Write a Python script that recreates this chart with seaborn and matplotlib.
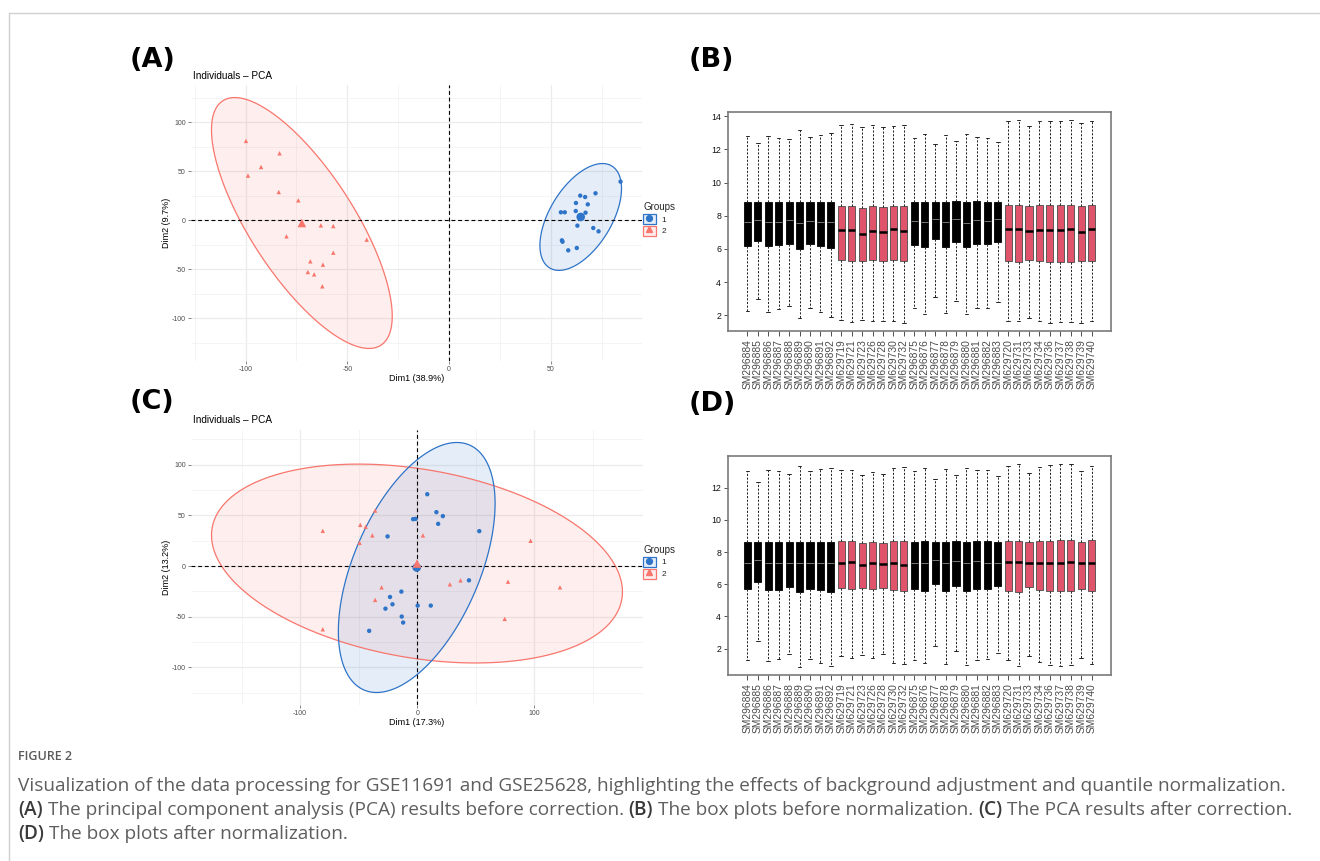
import numpy as np
import pandas as pd
import matplotlib
matplotlib.use("Agg")
import matplotlib.pyplot as plt
from matplotlib.lines import Line2D
from matplotlib.patches import Patch, Polygon
from matplotlib.colors import to_rgba
from matplotlib.legend_handler import HandlerTuple
import seaborn as sns

# ── PCA data ─────────────────────────────────────────────────────────────────
# panel A : before correction
a_red_x = [-99.8, -98.8, -92.4, -83.3, -83.7, -74.1, -79.9, -63.0, -56.9, -40.5, -56.9, -68.2, -62.0, -69.4, -66.3, -62.3]
a_red_y = [81.0, 45.6, 54.4, 68.4, 28.9, 20.4, -16.3, -5.1, -5.8, -19.7, -33.0, -41.8, -45.2, -52.7, -55.1, -67.3]
a_blue_x = [54.9, 56.8, 64.4, 66.8, 71.9, 62.3, 68.1, 62.2, 67.0, 63.0, 70.8, 73.4, 84.2, 55.4, 55.7, 58.5, 62.7, 65.3]
a_blue_y = [8.2, 8.2, 25.2, 23.8, 27.6, 17.7, 16.3, 9.5, 7.8, -5.4, -7.8, -11.2, 39.5, -20.4, -21.8, -30.6, -28.2, 3.7]
# panel C : after correction
c_red_x = [-80.7, -48.7, -44.1, -36.0, -38.4, -49.3, 4.8, 96.7, -30.5, -36.0, -80.7, 27.8, 36.9, 77.4, 121.8, 74.6]
c_red_y = [34.7, 40.6, 38.7, 54.7, 30.2, 22.9, 30.2, 24.9, -21.0, -33.4, -62.3, -18.0, -14.1, -15.4, -21.0, -52.1]
c_blue_x = [8.5, 16.3, 21.8, 17.8, -3.6, -1.5, 52.9, -25.4, 44.1, -13.6, -23.3, -21.2, -27.2, 0.3, 11.5, -13.3, -12.1, -41.1]
c_blue_y = [70.8, 53.1, 49.2, 41.6, 46.2, 46.5, 34.4, 29.2, -14.1, -25.2, -30.5, -37.7, -42.0, -39.0, -39.0, -49.8, -55.7, -63.9]

# ── Box plot data ────────────────────────────────────────────────────────────
samples = ["SM296884", "SM296885", "SM296886", "SM296887", "SM296888", "SM296889", "SM296890", "SM296891", "SM296892",
           "SM629719", "SM629721", "SM629723", "SM629726", "SM629728", "SM629730", "SM629732",
           "SM296875", "SM296876", "SM296877", "SM296878", "SM296879", "SM296880", "SM296881", "SM296882", "SM296883",
           "SM629720", "SM629731", "SM629733", "SM629734", "SM629736", "SM629737", "SM629738", "SM629739", "SM629740"]
sample_group = [1]*9 + [2]*7 + [1]*9 + [2]*9

# panel B : before normalization
b_q3 = [8.85, 8.85, 8.85, 8.81, 8.85, 8.85, 8.85, 8.85, 8.81,
        8.61, 8.61, 8.49, 8.57, 8.51, 8.57, 8.57,
        8.85, 8.85, 8.85, 8.85, 8.89, 8.85, 8.89, 8.85, 8.85,
        8.63, 8.63, 8.59, 8.63, 8.63, 8.63, 8.65, 8.59, 8.63]
b_q1 = [6.18, 6.50, 6.16, 6.22, 6.32, 6.02, 6.28, 6.16, 6.04,
        5.34, 5.28, 5.24, 5.30, 5.28, 5.30, 5.24,
        6.24, 6.14, 6.58, 6.14, 6.44, 6.10, 6.32, 6.28, 6.40,
        5.24, 5.18, 5.34, 5.24, 5.20, 5.20, 5.22, 5.24, 5.24]
b_med = [7.63, 7.73, 7.63, 7.63, 7.73, 7.53, 7.67, 7.63, 7.59,
         7.13, 7.11, 6.90, 7.09, 7.00, 7.17, 7.05,
         7.67, 7.63, 7.83, 7.63, 7.83, 7.57, 7.73, 7.67, 7.79,
         7.19, 7.19, 7.07, 7.15, 7.15, 7.11, 7.17, 6.99, 7.19]
b_hi = [12.79, 12.39, 12.81, 12.69, 12.61, 13.14, 12.75, 12.87, 13.00,
        13.46, 13.54, 13.36, 13.44, 13.34, 13.42, 13.48,
        12.69, 12.91, 12.31, 12.85, 12.53, 12.91, 12.75, 12.69, 12.47,
        13.68, 13.74, 13.40, 13.68, 13.72, 13.70, 13.76, 13.60, 13.68]
b_lo = [2.26, 3.00, 2.18, 2.38, 2.54, 1.82, 2.42, 2.20, 1.90,
        1.74, 1.60, 1.74, 1.64, 1.68, 1.64, 1.54,
        2.42, 2.10, 3.13, 2.14, 2.84, 2.06, 2.46, 2.46, 2.78,
        1.66, 1.66, 1.82, 1.64, 1.54, 1.62, 1.60, 1.54, 1.64]

# panel D : after normalization
d_q3 = [8.62, 8.62, 8.62, 8.62, 8.62, 8.62, 8.62, 8.64, 8.62,
        8.70, 8.66, 8.56, 8.62, 8.58, 8.66, 8.66,
        8.62, 8.66, 8.62, 8.62, 8.66, 8.62, 8.68, 8.66, 8.62,
        8.70, 8.70, 8.64, 8.70, 8.66, 8.72, 8.72, 8.64, 8.72]
d_q1 = [5.69, 6.15, 5.63, 5.67, 5.82, 5.53, 5.71, 5.63, 5.53,
        5.78, 5.69, 5.76, 5.73, 5.76, 5.63, 5.55,
        5.69, 5.61, 6.02, 5.59, 5.92, 5.57, 5.73, 5.71, 5.86,
        5.59, 5.53, 5.82, 5.65, 5.55, 5.55, 5.55, 5.73, 5.59]
d_med = [7.33, 7.50, 7.29, 7.29, 7.33, 7.29, 7.35, 7.33, 7.29,
         7.33, 7.37, 7.21, 7.33, 7.25, 7.35, 7.21,
         7.29, 7.29, 7.50, 7.29, 7.42, 7.29, 7.42, 7.31, 7.35,
         7.39, 7.37, 7.29, 7.35, 7.33, 7.29, 7.39, 7.29, 7.35]
d_hi = [13.06, 12.37, 13.10, 13.02, 12.85, 13.35, 13.02, 13.14, 13.22,
        13.08, 13.08, 12.79, 12.98, 12.87, 13.20, 13.27,
        13.02, 13.20, 12.52, 13.18, 12.77, 13.20, 13.12, 13.08, 12.75,
        13.35, 13.47, 12.93, 13.27, 13.39, 13.47, 13.45, 13.02, 13.37]
d_lo = [1.27, 2.44, 1.21, 1.34, 1.65, 0.86, 1.38, 1.13, 0.94,
        1.56, 1.40, 1.58, 1.40, 1.65, 1.13, 1.02,
        1.31, 1.09, 2.17, 1.07, 1.83, 1.00, 1.31, 1.35, 1.73,
        1.31, 0.94, 1.52, 1.19, 1.00, 0.90, 0.96, 1.42, 1.02]

RED = "#F8766D"
BLUE = "#2E74C8"
BOX_RED = "#DF536B"

W, H = 1320, 861
sns.set_theme(style="white")
plt.rcParams["font.family"] = ["Liberation Sans", "DejaVu Sans"]
plt.rcParams["axes.unicode_minus"] = False

fig = plt.figure(figsize=(W / 100, H / 100), dpi=100)
fig.patch.set_facecolor("white")


def px_axes(x0, y0, x1, y1):
    return fig.add_axes([x0 / W, 1 - y1 / H, (x1 - x0) / W, (y1 - y0) / H])


def norm_ellipse(x, y, level=0.95, n=200):
    # same recipe as ggplot2 stat_ellipse(type = "norm")
    x, y = np.asarray(x), np.asarray(y)
    dfd = len(x) - 1
    qf = dfd / 2 * ((1 - level) ** (-2 / dfd) - 1)   # qf(level, 2, dfd)
    radius = np.sqrt(2 * qf)
    chol = np.linalg.cholesky(np.cov(x, y)).T
    t = np.linspace(0, 2 * np.pi, n)
    circle = np.column_stack([np.cos(t), np.sin(t)])
    return circle @ chol * radius + [x.mean(), y.mean()]


def pca_panel(box, rx, ry, bx, by, xlab, ylab, xmaj, xmin, legend_xy, title_xy):
    ax = px_axes(*box)
    ells = [(norm_ellipse(rx, ry), RED), (norm_ellipse(bx, by), BLUE)]
    for el, col in ells:
        ax.add_patch(Polygon(el, closed=True, fc=to_rgba(col, 0.12), ec="none", zorder=2))
        ax.add_patch(Polygon(el, closed=True, fill=False, ec=col, lw=0.9, zorder=3))

    df = pd.DataFrame({"x": np.r_[bx, rx], "y": np.r_[by, ry],
                       "g": ["1"] * len(bx) + ["2"] * len(rx)})
    pal = {"1": BLUE, "2": RED}
    mk = {"1": "o", "2": "^"}
    sns.scatterplot(data=df, x="x", y="y", hue="g", style="g", palette=pal, markers=mk,
                    s=10, linewidth=0, legend=False, ax=ax, zorder=4)
    cent = df.groupby("g")[["x", "y"]].mean().reset_index()
    sns.scatterplot(data=cent, x="x", y="y", hue="g", style="g", palette=pal, markers=mk,
                    s=38, linewidth=0, legend=False, ax=ax, zorder=5)

    ax.axhline(0, color="black", lw=0.8, ls=(0, (3.5, 2.5)), zorder=3.5)
    ax.axvline(0, color="black", lw=0.8, ls=(0, (3.5, 2.5)), zorder=3.5)

    allx = np.r_[ells[0][0][:, 0], ells[1][0][:, 0], df["x"]]
    ally = np.r_[ells[0][0][:, 1], ells[1][0][:, 1], df["y"]]
    dx, dy = np.ptp(allx) * 0.05, np.ptp(ally) * 0.05
    ax.set_xlim(allx.min() - dx, allx.max() + dx)
    ax.set_ylim(ally.min() - dy, ally.max() + dy)

    ax.set_xticks(xmaj)
    ax.set_xticks(xmin, minor=True)
    ax.set_yticks([-100, -50, 0, 50, 100])
    ax.set_yticks([-125, -75, -25, 25, 75, 125], minor=True)
    ax.set_xticklabels([str(v) for v in xmaj])
    ax.set_yticklabels(["-100", "-50", "0", "50", "100"])
    ax.grid(which="major", color="#EBEBEB", lw=0.9, zorder=0)
    ax.grid(which="minor", color="#F3F3F3", lw=0.6, zorder=0)
    ax.set_axisbelow(True)
    for s in ax.spines.values():
        s.set_visible(False)
    ax.tick_params(which="major", length=2.2, width=0.5, color="#555555", labelsize=5,
                   labelcolor="#4D4D4D", pad=1.5, left=True, bottom=True)
    ax.tick_params(which="minor", length=0)
    ax.set_xlabel(xlab, fontsize=6.5, labelpad=0.5, color="black")
    ax.set_ylabel(ylab, fontsize=6.5, labelpad=0.5, color="black")

    fig.text(title_xy[0] / W, 1 - title_xy[1] / H, "Individuals – PCA", fontsize=7.2,
             ha="left", va="center", color="black")

    handles = [(Patch(fc=to_rgba(BLUE, 0.12), ec=BLUE, lw=0.9),
                Line2D([], [], marker="o", color=BLUE, ls="", ms=4.2)),
               (Patch(fc=to_rgba(RED, 0.12), ec=RED, lw=0.9),
                Line2D([], [], marker="^", color=RED, ls="", ms=4.6))]
    fig.legend(handles, ["1", "2"], title="Groups", loc="upper left",
               bbox_to_anchor=(legend_xy[0] / W, 1 - legend_xy[1] / H),
               frameon=False, handler_map={tuple: HandlerTuple(ndivide=1)},
               handlelength=1.5, handleheight=1.5, fontsize=6, title_fontsize=7,
               borderpad=0, borderaxespad=0, handletextpad=0.7, labelspacing=0.2,
               alignment="left")
    return ax


def box_panel(box, q1, med, q3, lo, hi):
    ax = px_axes(*box)
    n = len(q1)
    stats = [dict(q1=a, med=m, q3=b, whislo=l, whishi=h)
             for a, m, b, l, h in zip(q1, med, q3, lo, hi)]
    pos = np.arange(1, n + 1)
    art = ax.bxp(stats, positions=pos, widths=0.68, capwidths=0.34, patch_artist=True,
                 showfliers=False,
                 boxprops=dict(lw=0.6),
                 whiskerprops=dict(lw=0.7, color="#222222", ls=(0, (2.2, 1.6))),
                 capprops=dict(lw=0.7, color="#222222"),
                 medianprops=dict(lw=1.8, color="black", solid_capstyle="butt"))
    for patch, medline, g in zip(art["boxes"], art["medians"], sample_group):
        if g == 1:
            patch.set_facecolor("black")
            patch.set_edgecolor("black")
            medline.set_color("#8C8C8C")
            medline.set_linewidth(0.6)
        else:
            patch.set_facecolor(BOX_RED)
            patch.set_edgecolor("#4A4A4A")

    lo_all, hi_all = min(lo), max(hi)
    pad = (hi_all - lo_all) * 0.04
    ax.set_ylim(lo_all - pad, hi_all + pad)
    ax.set_xlim(0.5 - n * 0.04, n + 0.5 + n * 0.04)
    yt = [v for v in range(2, 16, 2) if v <= hi_all + pad]
    ax.set_yticks(yt)
    ax.set_yticklabels([str(v) for v in yt])
    ax.set_xticks(pos)
    ax.set_xticklabels(samples, rotation=90)
    ax.grid(False)
    for s in ax.spines.values():
        s.set_visible(True)
        s.set_color("#7A7A7A")
        s.set_linewidth(1.2)
    ax.tick_params(axis="y", length=3, width=0.6, color="#333333", labelsize=6.3,
                   labelcolor="#111111", pad=2, left=True)
    ax.tick_params(axis="x", length=3.5, width=0.6, color="#333333", labelsize=7.4,
                   labelcolor="#4A4A4A", pad=2.5, bottom=True)
    return ax


pca_panel((191, 85, 642, 361), a_red_x, a_red_y, a_blue_x, a_blue_y,
          "Dim1 (38.9%)", "Dim2 (9.7%)", [-100, -50, 0, 50], [-125, -75, -25, 25, 75],
          (643, 202), (193, 76))
pca_panel((191, 430, 643, 705), c_red_x, c_red_y, c_blue_x, c_blue_y,
          "Dim1 (17.3%)", "Dim2 (13.2%)", [-100, 0, 100], [-150, -50, 50, 150],
          (643, 545), (193, 420))
box_panel((728, 112, 1111, 331), b_q1, b_med, b_q3, b_lo, b_hi)
box_panel((728, 456, 1111, 675), d_q1, d_med, d_q3, d_lo, d_hi)

# panel letters
for lab, x, y in [("(A)", 130, 60), ("(B)", 689, 60), ("(C)", 130, 402), ("(D)", 689, 404)]:
    fig.text(x / W, 1 - y / H, lab, fontsize=19.5, fontweight="bold", family="DejaVu Sans",
             ha="left", va="center", color="black")

# thin page frame
fig.add_artist(Line2D([9 / W, 1], [1 - 13 / H, 1 - 13 / H], color="#CFCFCF", lw=1))
fig.add_artist(Line2D([9 / W, 9 / W], [0, 1 - 13 / H], color="#CFCFCF", lw=1))

# caption
CAP = ["Open Sans", "DejaVu Sans"]
fig.text(18 / W, 1 - 757 / H, "FIGURE 2", fontsize=9, fontweight="semibold", family=CAP,
         color="#5A5A5A", ha="left", va="center")

renderer = fig.canvas.get_renderer()


def text_width(s, size, weight):
    t = fig.text(0, 0, s, fontsize=size, fontweight=weight, family=CAP)
    w = t.get_window_extent(renderer=renderer).width
    t.remove()
    return w


line1 = ("Visualization of the data processing for GSE11691 and GSE25628, highlighting "
         "the effects of background adjustment and quantile normalization.")
cap_size = 11 * (1290 - 18) / text_width(line1, 11, "normal")


def rich_line(x, y, runs, size):
    gap = text_width("a a", size, "normal") - text_width("aa", size, "normal")
    for txt, bold in runs:
        wt = "semibold" if bold else "normal"
        fig.text(x / W, 1 - y / H, txt, fontsize=size, fontweight=wt, family=CAP,
                 color="#3A3A3A" if bold else "#5E5E5E", ha="left", va="center")
        x += text_width(txt, size, wt) + gap


rich_line(18, 786, [(line1, False)], cap_size)
rich_line(18, 810, [("(A)", True), ("The principal component analysis (PCA) results before correction.", False),
                    ("(B)", True), ("The box plots before normalization.", False),
                    ("(C)", True), ("The PCA results after correction.", False)], cap_size)
rich_line(18, 834, [("(D)", True), ("The box plots after normalization.", False)], cap_size)

fig.savefig("out.png", dpi=100, facecolor="white")
